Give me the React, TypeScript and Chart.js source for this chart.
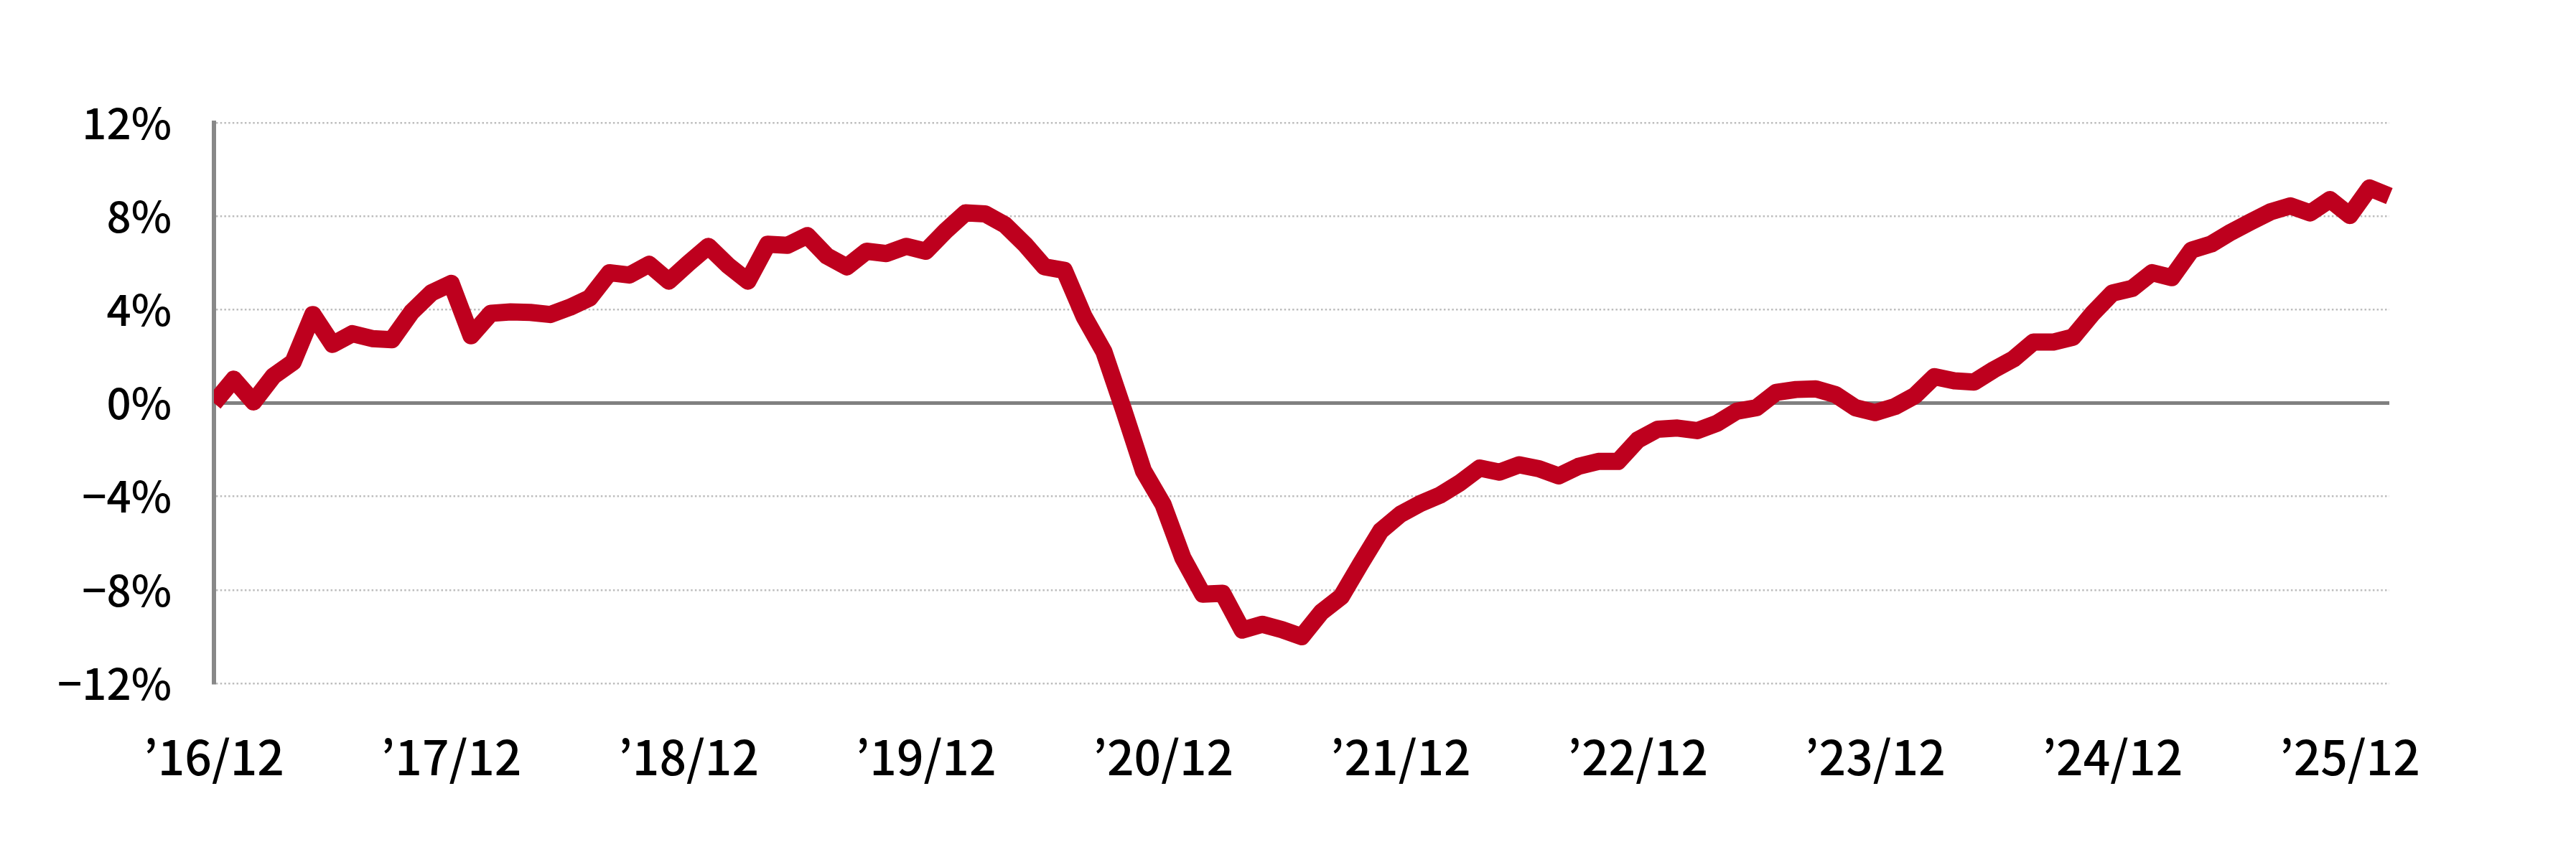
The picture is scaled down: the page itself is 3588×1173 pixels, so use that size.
import React, { useEffect, useRef } from "react";
import { Chart, registerables } from "chart.js";

Chart.register(...registerables);

// Monthly categories from 2016/12 to 2026/02
const startYear = 2016;
const startMonth = 12;
const monthCount = 111;
const categories: string[] = Array.from({ length: monthCount }, (_, i) => {
  const m0 = startMonth - 1 + i;
  const y = startYear + Math.floor(m0 / 12);
  const m = (m0 % 12) + 1;
  return `\u2019${String(y).slice(2)}/${String(m).padStart(2, "0")}`;
});

// Year-on-year change (%)
const values: number[] = [
  0.0, 1.02, 0.05, 1.15, 1.75, 3.79, 2.51, 2.97, 2.76, 2.71, 3.9, 4.72,
  5.12, 2.88, 3.84, 3.9, 3.88, 3.79, 4.1, 4.5, 5.58, 5.48, 5.94, 5.22,
  5.99, 6.71, 5.89, 5.22, 6.8, 6.75, 7.17, 6.29, 5.83, 6.5, 6.4, 6.71,
  6.5, 7.37, 8.14, 8.1, 7.63, 6.8, 5.83, 5.68, 3.7, 2.2, -0.3, -2.9,
  -4.35, -6.64, -8.18, -8.14, -9.72, -9.47, -9.7, -10.0, -8.95, -8.29, -6.86, -5.47,
  -4.76, -4.3, -3.94, -3.42, -2.78, -2.96, -2.64, -2.81, -3.12, -2.71, -2.5, -2.5,
  -1.58, -1.12, -1.07, -1.18, -0.87, -0.35, -0.2, 0.46, 0.58, 0.61, 0.36, -0.2,
  -0.41, -0.15, 0.31, 1.13, 0.95, 0.9, 1.43, 1.89, 2.61, 2.61, 2.82, 3.84,
  4.71, 4.91, 5.58, 5.37, 6.55, 6.81, 7.32, 7.76, 8.19, 8.44, 8.14, 8.71,
  8.03, 9.21, 8.86,
];

const yTicks: number[] = [-12, -8, -4, 0, 4, 8, 12];
const xTickEvery = 12;

const zeroLinePlugin = {
  id: "zeroLine",
  beforeDatasetsDraw(chart: any) {
    const { ctx, chartArea, scales } = chart;
    const y = scales.y.getPixelForValue(0);
    ctx.save();
    ctx.strokeStyle = "#808080";
    ctx.lineWidth = 5;
    ctx.beginPath();
    ctx.moveTo(chartArea.left, y);
    ctx.lineTo(chartArea.right, y);
    ctx.stroke();
    ctx.restore();
  },
};

export default function App() {
  const ref = useRef<HTMLCanvasElement | null>(null);
  useEffect(() => {
    if (!ref.current) return;
    const chart = new Chart(ref.current, {
      type: "line",
      data: {
        labels: categories,
        datasets: [
          {
            data: values,
            borderColor: "#BE001E",
            borderWidth: 24,
            pointRadius: 0,
            tension: 0,
            borderJoinStyle: "round",
            borderCapStyle: "butt",
            clip: { left: 0, right: 30, top: 30, bottom: 30 },
          } as any,
        ],
      },
      options: {
        animation: false,
        responsive: true,
        maintainAspectRatio: false,
        plugins: { legend: { display: false }, tooltip: { enabled: false } },
        layout: { padding: { left: 0, top: 171, right: 260, bottom: 0 } },
        scales: {
          x: {
            type: "category",
            grid: { display: false, drawTicks: false },
            border: { display: false },
            afterFit: (s: any) => {
              s.height = 221;
            },
            ticks: {
              autoSkip: false,
              maxRotation: 0,
              minRotation: 0,
              padding: 63,
              color: "#000",
              font: { family: "'Noto Sans CJK JP', sans-serif", size: 66, weight: "500" },
              callback: (_v: any, i: number) => (i % xTickEvery === 0 ? categories[i] : ""),
            },
          },
          y: {
            min: yTicks[0],
            max: yTicks[yTicks.length - 1],
            afterBuildTicks: (s: any) => {
              s.ticks = yTicks.map((v) => ({ value: v }));
            },
            afterFit: (s: any) => {
              s.width = 298;
            },
            grid: {
              drawTicks: false,
              lineWidth: 2.5,
              color: (c: any) => (c.tick && c.tick.value === 0 ? "rgba(0,0,0,0)" : "#bdbdbd"),
            },
            border: { display: true, color: "#888888", width: 6, dash: [2.5, 3.2] },
            ticks: {
              padding: 59,
              color: "#000",
              font: { family: "'Noto Sans CJK JP', sans-serif", size: 60, weight: "500" },
              callback: (v: any) => (v < 0 ? "\u2212" : "") + Math.abs(v) + "%",
            },
          },
        },
      },
      plugins: [zeroLinePlugin],
    });
    return () => chart.destroy();
  }, []);
  return (
    <div style={{ position: "absolute", left: 0, top: 0, width: 3588, height: 1173, background: "#fff" }}>
      <canvas ref={ref} />
    </div>
  );
}
